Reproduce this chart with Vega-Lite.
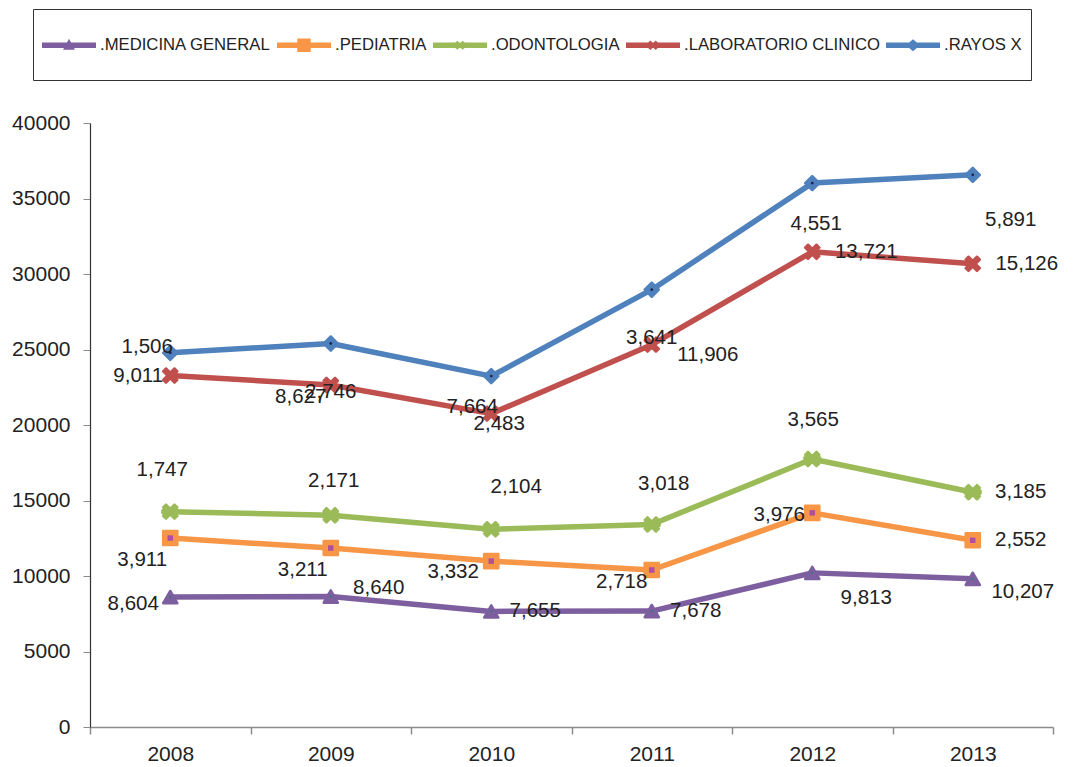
{
  "$schema": "https://vega.github.io/schema/vega-lite/v6.json",
  "width": 963,
  "height": 604,
  "autosize": {"type": "none"},
  "padding": {"left": 90, "top": 123, "right": 22, "bottom": 40},
  "background": "white",
  "config": {
    "view": {"stroke": null},
    "font": "Liberation Sans",
    "text": {"font": "Liberation Sans", "fontSize": 20.5, "color": "#222222", "align": "center", "baseline": "middle"}
  },
  "data": {
    "values": [
      {"year": "2008", "series": ".MEDICINA GENERAL", "stacked": 8604, "count": 8604},
      {"year": "2009", "series": ".MEDICINA GENERAL", "stacked": 8640, "count": 8640},
      {"year": "2010", "series": ".MEDICINA GENERAL", "stacked": 7655, "count": 7655},
      {"year": "2011", "series": ".MEDICINA GENERAL", "stacked": 7678, "count": 7678},
      {"year": "2012", "series": ".MEDICINA GENERAL", "stacked": 10207, "count": 9813},
      {"year": "2013", "series": ".MEDICINA GENERAL", "stacked": 9813, "count": 10207},
      {"year": "2008", "series": ".PEDIATRIA", "stacked": 12515, "count": 3911},
      {"year": "2009", "series": ".PEDIATRIA", "stacked": 11851, "count": 3211},
      {"year": "2010", "series": ".PEDIATRIA", "stacked": 10987, "count": 3332},
      {"year": "2011", "series": ".PEDIATRIA", "stacked": 10396, "count": 2718},
      {"year": "2012", "series": ".PEDIATRIA", "stacked": 14183, "count": 3976},
      {"year": "2013", "series": ".PEDIATRIA", "stacked": 12365, "count": 2552},
      {"year": "2008", "series": ".ODONTOLOGIA", "stacked": 14262, "count": 1747},
      {"year": "2009", "series": ".ODONTOLOGIA", "stacked": 14022, "count": 2171},
      {"year": "2010", "series": ".ODONTOLOGIA", "stacked": 13091, "count": 2104},
      {"year": "2011", "series": ".ODONTOLOGIA", "stacked": 13414, "count": 3018},
      {"year": "2012", "series": ".ODONTOLOGIA", "stacked": 17748, "count": 3565},
      {"year": "2013", "series": ".ODONTOLOGIA", "stacked": 15550, "count": 3185},
      {"year": "2008", "series": ".LABORATORIO CLINICO", "stacked": 23273, "count": 9011},
      {"year": "2009", "series": ".LABORATORIO CLINICO", "stacked": 22649, "count": 8627},
      {"year": "2010", "series": ".LABORATORIO CLINICO", "stacked": 20755, "count": 7664},
      {"year": "2011", "series": ".LABORATORIO CLINICO", "stacked": 25320, "count": 11906},
      {"year": "2012", "series": ".LABORATORIO CLINICO", "stacked": 31469, "count": 13721},
      {"year": "2013", "series": ".LABORATORIO CLINICO", "stacked": 30676, "count": 15126},
      {"year": "2008", "series": ".RAYOS X", "stacked": 24779, "count": 1506},
      {"year": "2009", "series": ".RAYOS X", "stacked": 25395, "count": 2746},
      {"year": "2010", "series": ".RAYOS X", "stacked": 23238, "count": 2483},
      {"year": "2011", "series": ".RAYOS X", "stacked": 28961, "count": 3641},
      {"year": "2012", "series": ".RAYOS X", "stacked": 36020, "count": 4551},
      {"year": "2013", "series": ".RAYOS X", "stacked": 36567, "count": 5891}
    ]
  },
  "encoding": {
    "x": {
      "field": "year", "type": "ordinal",
      "scale": {"type": "band", "paddingInner": 0, "paddingOuter": 0},
      "axis": {
        "title": null, "labelAngle": 0, "tickBand": "extent", "tickSize": 7,
        "tickColor": "#8c8c8c", "domainColor": "#8c8c8c", "domainWidth": 1.5, "tickWidth": 1.5,
        "labelFont": "Liberation Sans", "labelFontSize": 21, "labelColor": "#222222", "labelPadding": 9
      }
    },
    "y": {
      "field": "stacked", "type": "quantitative",
      "scale": {"domain": [0, 40000], "nice": false},
      "axis": {
        "title": null, "grid": false, "values": [0, 5000, 10000, 15000, 20000, 25000, 30000, 35000, 40000],
        "format": "d", "tickSize": 7, "tickColor": "#8c8c8c", "domainColor": "#333333", "domainWidth": 1.2,
        "labelFont": "Liberation Sans", "labelFontSize": 21, "labelColor": "#222222", "labelPadding": 13
      }
    }
  },
  "layer": [
    {
      "mark": {"type": "line", "strokeWidth": 5.5, "strokeJoin": "round", "strokeCap": "round"},
      "encoding": {
        "color": {
          "field": "series", "type": "nominal",
          "scale": {
            "domain": [".MEDICINA GENERAL", ".PEDIATRIA", ".ODONTOLOGIA", ".LABORATORIO CLINICO", ".RAYOS X"],
            "range": ["#7D5FA0", "#F79646", "#9BBB59", "#C0504D", "#4F81BD"]
          },
          "legend": {
            "orient": "none", "legendX": -57, "legendY": -114, "direction": "horizontal", "title": null,
            "symbolSize": 2916, "symbolStrokeWidth": 0, "symbolType": "square",
            "labelFont": "Liberation Sans", "labelFontSize": 16.7, "labelColor": "#222222", "labelOffset": 4, "labelLimit": 400,
            "columnPadding": 6, "padding": 9, "strokeColor": "#333333",
            "encode": {
              "symbols": {
                "update": {
                  "shape": {"signal": "'M0,-0.944L0.001,-0.944L0,-0.944ZM0,0.944L0.001,0.944L0,0.944Z' + (datum.value === '.MEDICINA GENERAL' ? 'M-1,-0.1H1V0.1H-1ZM-0.22,0.17L0,-0.24L0.22,0.17Z' : datum.value === '.PEDIATRIA' ? 'M-1,-0.1H1V0.1H-1ZM-0.25,-0.25H0.25V0.25H-0.25Z' : datum.value === '.ODONTOLOGIA' ? 'M-1,-0.1H1V0.1H-1ZM-0.17,-0.1L-0.1,-0.17L0,-0.07L0.1,-0.17L0.17,-0.1L0.07,0L0.17,0.1L0.1,0.17L0,0.07L-0.1,0.17L-0.17,0.1L-0.07,0Z' : datum.value === '.LABORATORIO CLINICO' ? 'M-1,-0.1H1V0.1H-1ZM-0.18,-0.1L-0.1,-0.18L0,-0.08L0.1,-0.18L0.18,-0.1L0.08,0L0.18,0.1L0.1,0.18L0,0.08L-0.1,0.18L-0.18,0.1L-0.08,0Z' : 'M-1,-0.1H1V0.1H-1ZM-0.26,0L0,-0.22L0.26,0L0,0.22Z')"},
                  "fill": {"scale": "color", "field": "value"},
                  "stroke": {"value": "transparent"},
                  "strokeWidth": {"value": 0},
                  "opacity": {"value": 1}
                }
              }
            }
          }
        }
      }
    },
    {
      "mark": {"type": "point", "filled": true, "opacity": 1, "size": 200, "strokeWidth": 2.5, "strokeJoin": "round"},
      "encoding": {
        "color": {"field": "series", "type": "nominal", "legend": null},
        "stroke": {
          "field": "series", "type": "nominal", "legend": null,
          "scale": {"range": ["#C0504D", "#7D5FA0", "#9BBB59", "#F79646", "#4F81BD"]}
        },
        "shape": {
          "field": "series", "type": "nominal", "legend": null,
          "scale": {
            "range": [
              "M-1,-0.6L-0.6,-1L0,-0.4L0.6,-1L1,-0.6L0.4,0L1,0.6L0.6,1L0,0.4L-0.6,1L-1,0.6L-0.4,0Z",
              "triangle-up",
              "M-1,-0.6L-0.6,-1L0,-0.4L0.6,-1L1,-0.6L0.4,0L1,0.6L0.6,1L0,0.4L-0.6,1L-1,0.6L-0.4,0ZM-1.1,-0.2H1.1V0.2H-1.1Z",
              "square",
              "diamond"
            ]
          }
        }
      }
    },
    {
      "transform": [{"filter": "datum.series === '.PEDIATRIA'"}],
      "mark": {"type": "point", "shape": "square", "filled": true, "opacity": 1, "size": 30, "color": "#B04EA0"}
    },
    {
      "transform": [{"filter": "datum.series === '.RAYOS X'"}],
      "mark": {"type": "point", "shape": "circle", "filled": true, "opacity": 1, "size": 8, "color": "#1C2556"}
    },
    {
      "transform": [{"filter": "datum.series === '.MEDICINA GENERAL'"}],
      "mark": {"type": "point", "shape": "circle", "filled": true, "opacity": 1, "size": 5, "color": "#2E7D6E"}
    },
    {
      "encoding": {"text": {"field": "count", "type": "quantitative", "format": ","}},
      "layer": [
        {"transform": [{"filter": "indexof(['M2008'], substring(datum.series,1,2)+datum.year) >= 0"}], "mark": {"type": "text", "dx": -37, "dy": 7}},
        {"transform": [{"filter": "indexof(['M2009'], substring(datum.series,1,2)+datum.year) >= 0"}], "mark": {"type": "text", "dx": 48, "dy": -9}},
        {"transform": [{"filter": "indexof(['M2010','M2011'], substring(datum.series,1,2)+datum.year) >= 0"}], "mark": {"type": "text", "dx": 44, "dy": 0}},
        {"transform": [{"filter": "indexof(['M2012'], substring(datum.series,1,2)+datum.year) >= 0"}], "mark": {"type": "text", "dx": 54, "dy": 25}},
        {"transform": [{"filter": "indexof(['M2013'], substring(datum.series,1,2)+datum.year) >= 0"}], "mark": {"type": "text", "dx": 50, "dy": 13}},
        {"transform": [{"filter": "indexof(['P2008','P2009'], substring(datum.series,1,2)+datum.year) >= 0"}], "mark": {"type": "text", "dx": -28, "dy": 22}},
        {"transform": [{"filter": "indexof(['P2010'], substring(datum.series,1,2)+datum.year) >= 0"}], "mark": {"type": "text", "dx": -38, "dy": 11}},
        {"transform": [{"filter": "indexof(['P2011','L2009'], substring(datum.series,1,2)+datum.year) >= 0"}], "mark": {"type": "text", "dx": -30, "dy": 12}},
        {"transform": [{"filter": "indexof(['P2012'], substring(datum.series,1,2)+datum.year) >= 0"}], "mark": {"type": "text", "dx": -33, "dy": 2}},
        {"transform": [{"filter": "indexof(['P2013','O2013'], substring(datum.series,1,2)+datum.year) >= 0"}], "mark": {"type": "text", "dx": 48, "dy": 0}},
        {"transform": [{"filter": "indexof(['O2008'], substring(datum.series,1,2)+datum.year) >= 0"}], "mark": {"type": "text", "dx": -8, "dy": -42}},
        {"transform": [{"filter": "indexof(['O2009'], substring(datum.series,1,2)+datum.year) >= 0"}], "mark": {"type": "text", "dx": 3, "dy": -34}},
        {"transform": [{"filter": "indexof(['O2010'], substring(datum.series,1,2)+datum.year) >= 0"}], "mark": {"type": "text", "dx": 25, "dy": -42}},
        {"transform": [{"filter": "indexof(['O2011'], substring(datum.series,1,2)+datum.year) >= 0"}], "mark": {"type": "text", "dx": 12, "dy": -40}},
        {"transform": [{"filter": "indexof(['O2012'], substring(datum.series,1,2)+datum.year) >= 0"}], "mark": {"type": "text", "dx": 1, "dy": -39}},
        {"transform": [{"filter": "indexof(['L2008'], substring(datum.series,1,2)+datum.year) >= 0"}], "mark": {"type": "text", "dx": -32, "dy": 0}},
        {"transform": [{"filter": "indexof(['L2010'], substring(datum.series,1,2)+datum.year) >= 0"}], "mark": {"type": "text", "dx": -19, "dy": -7}},
        {"transform": [{"filter": "indexof(['L2011'], substring(datum.series,1,2)+datum.year) >= 0"}], "mark": {"type": "text", "dx": 56, "dy": 10}},
        {"transform": [{"filter": "indexof(['L2012','L2013'], substring(datum.series,1,2)+datum.year) >= 0"}], "mark": {"type": "text", "dx": 54, "dy": 0}},
        {"transform": [{"filter": "indexof(['R2008'], substring(datum.series,1,2)+datum.year) >= 0"}], "mark": {"type": "text", "dx": -23, "dy": -6}},
        {"transform": [{"filter": "indexof(['R2009','R2011'], substring(datum.series,1,2)+datum.year) >= 0"}], "mark": {"type": "text", "dx": 0, "dy": 48}},
        {"transform": [{"filter": "indexof(['R2010'], substring(datum.series,1,2)+datum.year) >= 0"}], "mark": {"type": "text", "dx": 8, "dy": 48}},
        {"transform": [{"filter": "indexof(['R2012'], substring(datum.series,1,2)+datum.year) >= 0"}], "mark": {"type": "text", "dx": 4, "dy": 41}},
        {"transform": [{"filter": "indexof(['R2013'], substring(datum.series,1,2)+datum.year) >= 0"}], "mark": {"type": "text", "dx": 38, "dy": 45}}
      ]
    }
  ]
}
